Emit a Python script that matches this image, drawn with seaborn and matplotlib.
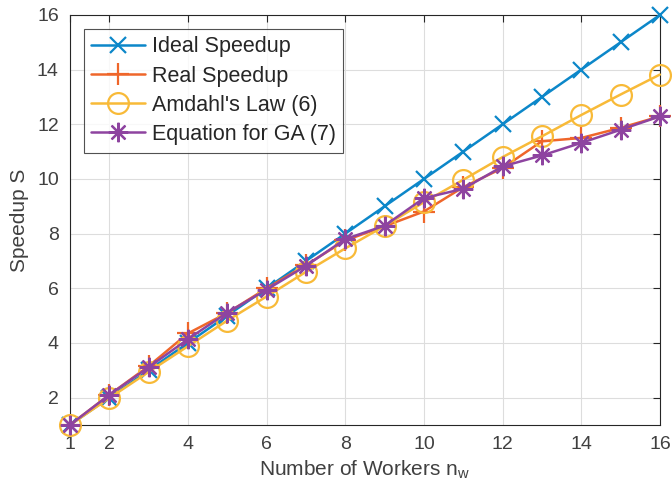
# -*- coding: utf-8 -*-

### Speedup vs number of workers ###

import matplotlib
matplotlib.use("Agg")
import matplotlib.pyplot as plt
import seaborn as sns
import pandas as pd

sns.set_style("white")
plt.rcParams['font.family'] = ['Liberation Sans', 'DejaVu Sans']
plt.rcParams['mathtext.fontset'] = 'custom'
plt.rcParams['mathtext.rm'] = 'Liberation Sans'
plt.rcParams['mathtext.it'] = 'Liberation Sans'

## data ##
workers = [1, 2, 3, 4, 5, 6, 7, 8, 9, 10, 11, 12, 13, 14, 15, 16]
ideal = [1, 2, 3, 4, 5, 6, 7, 8, 9, 10, 11, 12, 13, 14, 15, 16]
real = [1.0, 2.1, 3.15, 4.35, 5.1, 6.0, 6.85, 7.75, 8.27, 8.81, 9.7, 10.4, 11.38, 11.5, 11.87, 12.29]
amdahl = [1.0, 1.98, 2.94, 3.88, 4.82, 5.7, 6.6, 7.46, 8.28, 9.15, 9.97, 10.8, 11.56, 12.34, 13.09, 13.82]
eq_ga = [1.0, 2.1, 3.11, 4.14, 5.11, 5.95, 6.82, 7.8, 8.29, 9.3, 9.64, 10.46, 10.86, 11.32, 11.8, 12.29]

labels = ["Ideal Speedup", "Real Speedup", "Amdahl's Law (6)", "Equation for GA (7)"]
colors = ['#0c87c9', '#ef662a', '#f8ba38', '#8e44a0']
markers = ['x', '+', 'o', (8, 2, 0)]
msizes = [11, 16, 15, 14]

df = pd.DataFrame({'n': workers, labels[0]: ideal, labels[1]: real,
                   labels[2]: amdahl, labels[3]: eq_ga})

fig = plt.figure(figsize=(6.72, 4.94), dpi=100)
ax = fig.add_axes([0.104, 0.1397, 0.878, 0.83])

for lab, col, mk, ms in zip(labels, colors, markers, msizes):
    fc = 'none' if mk == 'o' else col
    sns.lineplot(data=df, x='n', y=lab, ax=ax, label=lab, color=col,
                 marker=mk, markersize=ms, markeredgecolor=col,
                 markerfacecolor=fc, markeredgewidth=1.6, linewidth=1.8,
                 clip_on=False, zorder=3)

ax.set_xlim(1, 16)
ax.set_ylim(1, 16)
ax.set_xticks([1, 2, 4, 6, 8, 10, 12, 14, 16])
ax.set_yticks([2, 4, 6, 8, 10, 12, 14, 16])
ax.grid(True, color='#dddddd', linewidth=0.8)
ax.set_axisbelow(True)
ax.tick_params(direction='in', length=5, width=0.8, colors='#262626',
               labelcolor='#404040', labelsize=14, top=True, right=True,
               pad=8)
for s in ax.spines.values():
    s.set_color('#262626')
    s.set_linewidth(0.8)

ax.set_xlabel(r'Number of Workers n$_\mathregular{w}$', fontsize=15,
              color='#404040', labelpad=4)
ax.set_ylabel('Speedup S', fontsize=15, color='#404040', labelpad=6)

leg = ax.legend(loc='upper left', bbox_to_anchor=(0.0237, 0.966), fontsize=15.5,
                frameon=True, fancybox=False, edgecolor='#262626',
                handlelength=2.5, borderpad=0.35, labelspacing=0.38,
                handletextpad=0.3, borderaxespad=0)
leg.get_frame().set_linewidth(0.8)
leg.set_zorder(5)

plt.savefig('out.png', dpi=100)
